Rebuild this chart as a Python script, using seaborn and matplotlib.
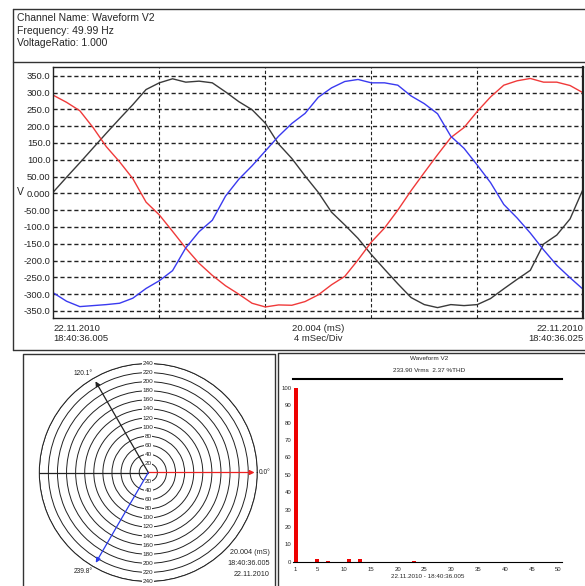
import numpy as np
import matplotlib
matplotlib.use('Agg')
import matplotlib.pyplot as plt
import seaborn as sns
import pandas as pd

sns.set_style('white')
plt.rcParams['font.family'] = ['Liberation Sans', 'DejaVu Sans']

# waveform samples (V), every 0.5 ms
time_ms = np.arange(0, 20.01, 0.5)
v_black = [4, 48, 91, 135, 179, 222, 264, 309, 329, 341, 331, 334, 329, 302, 273, 249, 209,
           147, 104, 52, 3, -56, -94, -134, -182, -226, -269, -310, -331, -340, -331, -334,
           -331, -313, -284, -256, -229, -151, -124, -76, 14]
v_red = [292, 271, 246, 196, 139, 94, 44, -26, -64, -113, -163, -208, -244, -275, -300, -327,
         -338, -332, -333, -322, -302, -272, -247, -198, -145, -103, -50, 8, 62, 115, 166, 196,
         244, 287, 322, 335, 342, 331, 331, 321, 299]
v_blue = [-296, -321, -337, -334, -331, -327, -312, -283, -260, -230, -162, -114, -80, -8, 42,
          82, 126, 170, 208, 238, 286, 314, 333, 339, 329, 329, 322, 290, 267, 237, 170, 134,
          84, 32, -33, -73, -118, -168, -214, -251, -286]
y_ticks = [350, 300, 250, 200, 150, 100, 50, 0, -50, -100, -150, -200, -250, -300, -350]
y_ticklabels = ['350.0', '300.0', '250.0', '200.0', '150.0', '100.0', '50.00', '0.000',
                '-50.00', '-100.0', '-150.0', '-200.0', '-250.0', '-300.0', '-350.0']

# phasors
phasor_angles = [0.0, 120.1, 239.8]
phasor_mags = [234, 232, 230]
phasor_colors = ['#ee2222', '#222222', '#2a3ae8']
phasor_labels = ['0.0°', '120.1°', '239.8°']
rings = [20, 40, 60, 80, 100, 120, 140, 160, 180, 200, 220, 240]

# harmonic spectrum (% of fundamental)
harm_orders = [1, 5, 7, 11, 13, 23]
harm_pct = [100, 1.3, 0.6, 1.3, 1.4, 0.5]
harm_ticks = [1, 5, 10, 15, 20, 25, 30, 35, 40, 45, 50]

W, H = 585, 586


def rect(x0, y0, x1, y1):
    # pixel box (top-left origin) -> figure fraction rect
    return [x0 / W, 1 - y1 / H, (x1 - x0) / W, (y1 - y0) / H]


def fx(x):
    return x / W


def fy(y):
    return 1 - y / H


fig = plt.figure(figsize=(W / 100, H / 100), dpi=100)

# frames
frame_kw = dict(color='#333333', lw=1.0, transform=fig.transFigure)
fig.lines.append(plt.Line2D([fx(13), fx(585)], [fy(9), fy(9)], **frame_kw))
fig.lines.append(plt.Line2D([fx(13), fx(585)], [fy(61.5), fy(61.5)], **frame_kw))
fig.lines.append(plt.Line2D([fx(13), fx(585)], [fy(350), fy(350)], **frame_kw))
fig.lines.append(plt.Line2D([fx(13), fx(13)], [fy(9), fy(350)], **frame_kw))
fig.lines.append(plt.Line2D([fx(22.7), fx(275), fx(275), fx(22.7), fx(22.7)],
                            [fy(600), fy(600), fy(353.5), fy(353.5), fy(600)], **frame_kw))
fig.lines.append(plt.Line2D([fx(278.3), fx(278.3), fx(585)],
                            [fy(600), fy(352.7), fy(352.7)], **frame_kw))

# header
for i, s in enumerate(['Channel Name: Waveform V2', 'Frequency: 49.99 Hz', 'VoltageRatio: 1.000']):
    fig.text(fx(17), fy(18 + i * 12.5), s, fontsize=7.5, va='center', ha='left')

# waveform panel
ax = fig.add_axes(rect(53.3, 66.7, 583.3, 317.7))
df = pd.DataFrame({'t': time_ms, 'black': v_black, 'red': v_red, 'blue': v_blue})
sns.lineplot(data=df, x='t', y='black', ax=ax, color='#3a3a3a', lw=1.0)
sns.lineplot(data=df, x='t', y='red', ax=ax, color='#f03a3a', lw=1.0)
sns.lineplot(data=df, x='t', y='blue', ax=ax, color='#3a3af0', lw=1.0)
ax.set_xlim(0, 20)
ax.set_ylim(-370, 377)
for yv in y_ticks:
    ax.axhline(yv, color='#222222', lw=1.0, ls=(0, (3, 2)), zorder=0)
for xv in [4, 8, 12, 16]:
    ax.axvline(xv, color='#222222', lw=0.8, ls=(0, (3, 2)), zorder=0)
ax.set_yticks(y_ticks)
ax.set_yticklabels(y_ticklabels)
ax.set_xticks([])
ax.tick_params(axis='y', length=0, labelsize=6.8, pad=2)
ax.set_xlabel('')
ax.set_ylabel('V', rotation=0, fontsize=7.5, va='center')
ax.yaxis.set_label_coords(-0.062, 0.5)
for sp in ax.spines.values():
    sp.set_color('#222222')
    sp.set_linewidth(1.0)
ax.spines['right'].set_linewidth(1.6)
ax.text(0, -0.025, '22.11.2010\n18:40:36.005', transform=ax.transAxes, ha='left', va='top',
        fontsize=6.8, linespacing=1.1)
ax.text(0.5, -0.025, '20.004 (mS)\n4 mSec/Div', transform=ax.transAxes, ha='center', va='top',
        fontsize=6.8, linespacing=1.1)
ax.text(1, -0.025, '22.11.2010\n18:40:36.025', transform=ax.transAxes, ha='right', va='top',
        fontsize=6.8, linespacing=1.1)

# phasor diagram
pax = fig.add_axes(rect(39.3, 363.5, 257.3, 581.5), projection='polar')
pax.set_rlim(0, 240)
pax.set_rgrids(rings, labels=[''] * len(rings))
pax.set_thetagrids([])
pax.xaxis.grid(False)
pax.yaxis.grid(True, color='#222222', lw=0.7)
pax.spines['polar'].set_color('#222222')
pax.spines['polar'].set_linewidth(0.7)
pax.plot([np.pi, np.pi], [0, 240], color='#222222', lw=0.9)
for r in rings:
    for th in (np.pi / 2, 3 * np.pi / 2):
        pax.text(th, r, str(r), fontsize=4.6, ha='center', va='center', color='#222222',
                 bbox=dict(facecolor='white', edgecolor='none', pad=0.4))
offsets = {'0.0°': ((3, 0), 'left', 'center'),
           '120.1°': ((-2, 3), 'right', 'bottom'),
           '239.8°': ((-2, -4), 'right', 'top')}
for ang, mag, col, lab in zip(phasor_angles, phasor_mags, phasor_colors, phasor_labels):
    th = np.deg2rad(ang)
    pax.annotate('', xy=(th, mag), xytext=(0, 0),
                 arrowprops=dict(arrowstyle='-|>', color=col, lw=0.9, mutation_scale=7,
                                 shrinkA=0, shrinkB=0))
    off, ha, va = offsets[lab]
    pax.annotate(lab, xy=(th, mag), xytext=off, textcoords='offset points', ha=ha, va=va,
                 fontsize=4.8, color='#222222')
fig.text(fx(270), fy(553), '20.004 (mS)', fontsize=5.2, ha='right', va='center')
fig.text(fx(270), fy(563.5), '18:40:36.005', fontsize=5.2, ha='right', va='center')
fig.text(fx(270), fy(574), '22.11.2010', fontsize=5.2, ha='right', va='center')

# harmonic spectrum
hax = fig.add_axes(rect(293.3, 379.3, 561.7, 561.7))
all_orders = list(range(1, 51))
pct_map = dict(zip(harm_orders, harm_pct))
hdf = pd.DataFrame({'order': all_orders, 'pct': [pct_map.get(h, 0) for h in all_orders]})
sns.barplot(data=hdf, x='order', y='pct', native_scale=True, color='#ee0000', width=0.8,
            linewidth=0, saturation=1, ax=hax)
hax.set_xlim(0.55, 50.6)
hax.set_ylim(0, 105)
hax.set_xticks(harm_ticks)
hax.set_yticks(range(0, 101, 10))
hax.tick_params(axis='both', labelsize=4.3, length=2, width=0.6, pad=1.5, direction='out')
hax.set_xlabel('22.11.2010 - 18:40:36.005', fontsize=4.5, labelpad=1.5)
hax.set_ylabel('')
hax.spines['top'].set_linewidth(1.5)
hax.spines['top'].set_color('black')
hax.spines['bottom'].set_linewidth(0.8)
hax.spines['bottom'].set_color('black')
hax.spines['left'].set_visible(False)
hax.spines['right'].set_visible(False)
hax.yaxis.set_tick_params(length=0)
fig.text(fx(429), fy(358), 'Waveform V2', fontsize=4.6, ha='center', va='center')
fig.text(fx(429), fy(370), '233.90 Vrms  2.37 %THD', fontsize=4.6, ha='center', va='center')

fig.savefig('out.png', dpi=100)
